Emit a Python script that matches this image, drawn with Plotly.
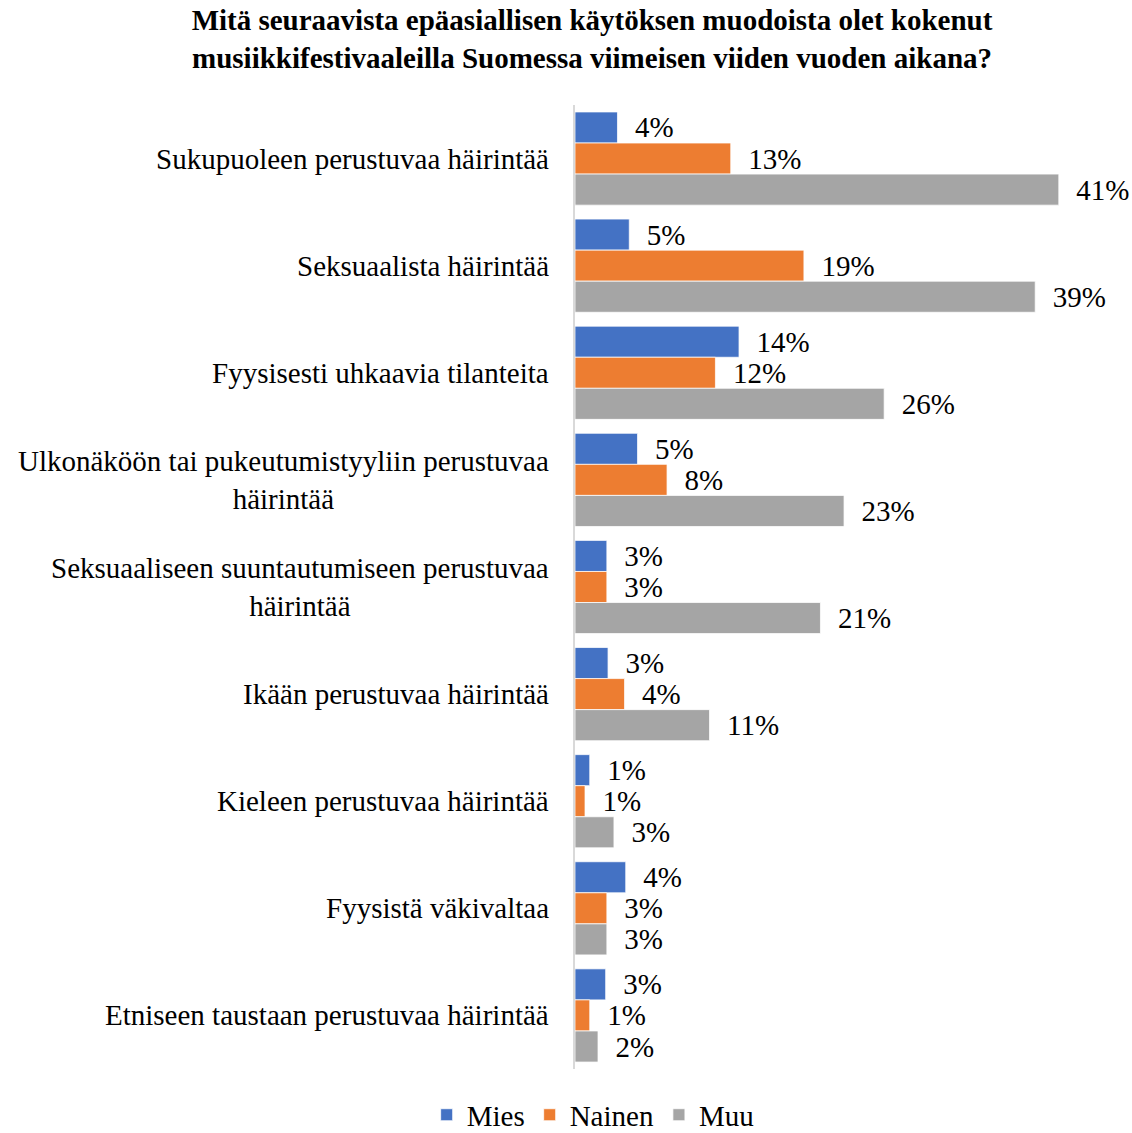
import plotly.graph_objects as go

categories = [
    "Sukupuoleen perustuvaa häirintää",
    "Seksuaalista häirintää",
    "Fyysisesti uhkaavia tilanteita",
    "Ulkonäköön tai pukeutumistyyliin perustuvaa<br>häirintää",
    "Seksuaaliseen suuntautumiseen perustuvaa<br>häirintää",
    "Ikään perustuvaa häirintää",
    "Kieleen perustuvaa häirintää",
    "Fyysistä väkivaltaa",
    "Etniseen taustaan perustuvaa häirintää",
]
series_names = ["Mies", "Nainen", "Muu"]
mies = [0.036, 0.046, 0.139, 0.053, 0.027, 0.028, 0.0125, 0.043, 0.026]
nainen = [0.132, 0.194, 0.119, 0.078, 0.027, 0.042, 0.0085, 0.027, 0.0125]
muu = [0.410, 0.390, 0.262, 0.228, 0.208, 0.114, 0.033, 0.027, 0.0195]
colors = ["#4472C4", "#ED7D31", "#A5A5A5"]
title_text = ("<b>Mitä seuraavista epäasiallisen käytöksen muodoista olet kokenut<br>"
              "musiikkifestivaaleilla Suomessa viimeisen viiden vuoden aikana?</b>")

FONT = "Liberation Serif"
FS = 29

fig = go.Figure()
for name, vals, col in zip(series_names, [mies, nainen, muu], colors):
    fig.add_trace(go.Bar(
        y=categories, x=vals, name=name, orientation="h",
        marker=dict(color=col, line=dict(color="white", width=0.75)),
        texttemplate="\u00a0\u00a0%{x:.0%}", textposition="outside",
        textfont=dict(family=FONT, size=FS, color="black"),
        constraintext="none", cliponaxis=False,
    ))

for c in categories:
    fig.add_annotation(
        x=0, xref="paper", y=c, yref="y", text=c, showarrow=False,
        xanchor="right", yanchor="middle", align="center", xshift=-24,
        font=dict(family=FONT, size=FS, color="black"),
    )

fig.update_layout(
    width=1132, height=1133,
    paper_bgcolor="white", plot_bgcolor="white",
    barmode="group", bargap=0.13, bargroupgap=0,
    margin=dict(l=575, r=26, t=105, b=64),
    title=dict(
        text=title_text,
        x=0.523, xref="container", xanchor="center",
        y=0.9735, yref="container", yanchor="middle",
        font=dict(family=FONT, size=29, color="black"),
    ),
    xaxis=dict(range=[0, 0.45], visible=False, showgrid=False, zeroline=False),
    yaxis=dict(autorange="reversed", showticklabels=False, showline=True,
               linecolor="#D9D9D9", linewidth=1.5, ticks="", showgrid=False),
    legend=dict(orientation="h", x=0.524, xref="container", xanchor="center",
                y=0.016, yref="container", yanchor="middle",
                font=dict(family=FONT, size=FS, color="black"),
                traceorder="normal", itemwidth=30),
    showlegend=True,
)

fig.write_html("out.html", config={"displayModeBar": False},
               post_script="document.body.style.margin='0';document.body.style.padding='0';")
